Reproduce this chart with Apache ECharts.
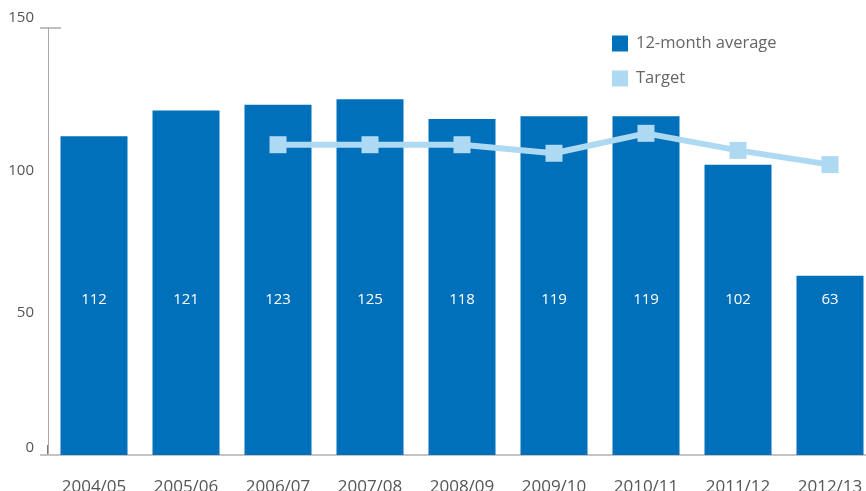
<!DOCTYPE html>
<html><head><meta charset="utf-8">
<script src="https://cdn.jsdelivr.net/npm/echarts@6/dist/echarts.min.js"></script>
<style>html,body{margin:0;padding:0;background:#fff}#c{width:866px;height:491px}</style>
</head><body><div id="c"></div>
<script>
var categories = ['2004/05','2005/06','2006/07','2007/08','2008/09','2009/10','2010/11','2011/12','2012/13'];
var avgValues = [112,121,123,125,118,119,119,102,63];
var targetValues = [null,null,109,109,109,106,113,107,102];
var yTicks = [0,50,100,150];

var chart = echarts.init(document.getElementById('c'));
var font = '"Open Sans", sans-serif';
chart.setOption({
  animation:false,
  backgroundColor:'#fff',
  grid:{left:48, top:28, width:828, bottom:36, outerBoundsMode:'none', containLabel:false},
  legend:{
    orient:'vertical', left:607, top:30, itemWidth:16, itemHeight:16, itemGap:18,
    textStyle:{color:'#666', fontSize:16.5, fontFamily:font, padding:[0,0,0,3]},
    data:[{name:'12-month average', icon:'rect'},{name:'Target', icon:'rect'}]
  },
  xAxis:{
    type:'category', data:categories,
    axisLine:{lineStyle:{color:'#c4c4c4', width:2}},
    axisTick:{show:false},
    axisLabel:{color:'#555', fontSize:17, fontFamily:font, margin:24}
  },
  yAxis:{
    type:'value', min:0, max:150, interval:50,
    axisLine:{show:true, lineStyle:{color:'#aaa', width:1}},
    axisTick:{show:false},
    splitLine:{show:false},
    axisLabel:{color:'#555', fontSize:15, fontFamily:font, margin:14,
      formatter:function(v){
        if(yTicks.indexOf(v)<0) return '';
        if(v===150) return '{up|'+v+'}';
        if(v===0) return '{low|'+v+'}';
        return String(v);
      },
      rich:{
        up:{color:'#555', fontSize:15, fontFamily:font, padding:[0,0,20,0]},
        low:{color:'#555', fontSize:15, fontFamily:font, padding:[0,0,14,0]}
      }}
  },
  series:[
    {name:'12-month average', type:'bar', data:avgValues, barWidth:67,
     itemStyle:{color:'#0070BA'},
     label:{show:true, position:'insideBottom', distance:148, color:'#fff', fontSize:15, fontFamily:font}},
    {name:'Target', type:'line', data:targetValues, symbol:'rect', symbolSize:17,
     lineStyle:{color:'#AED9F2', width:6}, itemStyle:{color:'#AED9F2'}, z:3}
  ]
});
// axis decorations: top T-tick and x-axis extension left of the y axis
var pTop = chart.convertToPixel({yAxisIndex:0}, 150);
var pZero = chart.convertToPixel({yAxisIndex:0}, 0);
var xAxisX = 48;
chart.setOption({graphic:[
  {type:'line', shape:{x1:xAxisX-8, y1:pTop, x2:xAxisX+13, y2:pTop}, style:{stroke:'#aaa', lineWidth:1.5}},
  {type:'line', shape:{x1:xAxisX-8, y1:pZero, x2:xAxisX, y2:pZero}, style:{stroke:'#c4c4c4', lineWidth:2}},
  {type:'line', shape:{x1:xAxisX, y1:pZero-10, x2:xAxisX, y2:pZero}, style:{stroke:'#777', lineWidth:2}}
]});
</script></body></html>
